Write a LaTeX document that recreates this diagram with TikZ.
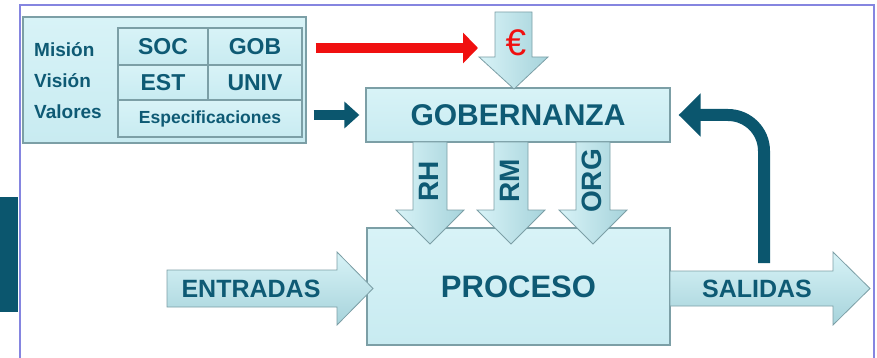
\documentclass[tikz,border=0pt]{standalone}
\usepackage{fontspec}
\setmainfont{Liberation Sans}
\usepackage{tikz}
\usetikzlibrary{arrows.meta}

\definecolor{celeste}{HTML}{C8EBF1}
\definecolor{celesteclaro}{HTML}{D8F3F7}
\definecolor{celesteosc}{HTML}{A6D3DB}
\definecolor{borde}{HTML}{7C9FA6}
\definecolor{azultexto}{HTML}{0E5A74}
\definecolor{azuloscuro}{HTML}{0B566E}
\definecolor{marco}{HTML}{8585E0}
\definecolor{rojo}{HTML}{F01010}

\begin{document}
\begin{tikzpicture}[x=1pt,y=-1pt,
    caja/.style={draw=borde, line width=1.3pt, top color=celesteclaro, bottom color=celeste, inner sep=0pt, text=azultexto},
    flechah/.style={draw=borde, line width=0.8pt, top color=celesteclaro, bottom color=celesteosc},
    flechav/.style={draw=borde, line width=0.8pt, left color=celesteclaro, right color=celesteosc},
    texto/.style={text=azultexto, inner sep=0pt},
    fuente/.style={font=\bfseries\fontsize{#1}{#1}\selectfont}]

    \useasboundingbox (0,0) rectangle (877,358);

    % Frame and side tab
    \draw[marco, line width=2pt] (20,358) -- (20,5) -- (874,5) -- (874,358);
    \fill[azuloscuro] (0,197) rectangle (18,312);

    % Left panel
    \node[caja, minimum width=283pt, minimum height=126pt] (panel) at (164.5,80) {};
    \node[texto, fuente=19, anchor=west] (mision) at (34,50) {Misión};
    \node[texto, fuente=19, anchor=west] (vision) at (34,81) {Visión};
    \node[texto, fuente=19, anchor=west] (valores) at (34,112) {Valores};

    \node[caja, fuente=23, minimum width=90pt, minimum height=37pt] (soc) at (163,46.5) {SOC};
    \node[caja, fuente=23, minimum width=94pt, minimum height=37pt] (gobb) at (255,46.5) {GOB};
    \node[caja, fuente=23, minimum width=90pt, minimum height=35pt] (est) at (163,82.5) {EST};
    \node[caja, fuente=23, minimum width=94pt, minimum height=35pt] (univ) at (255,82.5) {UNIV};
    \node[caja, fuente=17.5, minimum width=184pt, minimum height=37pt] (espec) at (210,118.5) {Especificaciones};

    % Main boxes
    \node[caja, fuente=30, minimum width=304pt, minimum height=54pt] (gob) at (518,115) {GOBERNANZA};
    \node[caja, fuente=31, minimum width=303pt, minimum height=117pt] (proceso) at (518.5,286.5) {PROCESO};

    % Money arrow into GOBERNANZA
    \draw[flechav] (495,12) -- (532,12) -- (532,57) -- (548,57) -- (514,89) -- (479,57) -- (495,57) -- cycle;
    \node[text=rojo, font=\fontsize{37}{37}\selectfont, inner sep=0pt] (euro) at (516,43) {€};
    \coordinate (eurohead) at (478,48);
    \draw[rojo, line width=10pt, -{Triangle[width=30pt,length=15pt]}] ([xshift=9pt]panel.east |- eurohead) -- (eurohead);

    % Panel to GOBERNANZA
    \draw[azuloscuro, line width=10pt, -{Triangle[width=26pt,length=15pt]}] ([xshift=7pt]panel.east |- gob.west) -- ([xshift=-6pt]gob.west);

    % Resources from GOBERNANZA to PROCESO
    \foreach \x/\nombre/\etiqueta in {430/rh/RH, 511/rm/RM, 593/org/ORG} {
        \draw[flechav] (\x-17,142) -- (\x+17,142) -- (\x+17,210) -- (\x+34,210) -- (\x,244) -- (\x-34,210) -- (\x-17,210) -- cycle;
        \node[texto, fuente=28, rotate=90] (\nombre) at (\x-1,181) {\etiqueta};
    }

    % Inputs and outputs
    \draw[flechah] (167,270) -- (337,270) -- (337,252) -- (373,288.5) -- (337,325) -- (337,307) -- (167,307) -- cycle;
    \node[texto, fuente=25] (entradas) at (251,289) {ENTRADAS};
    \draw[flechah] (670,271) -- (833,271) -- (833,252) -- (870,288.5) -- (833,325) -- (833,306) -- (670,306) -- cycle;
    \node[texto, fuente=25] (salidas) at (757,289) {SALIDAS};

    % Feedback to GOBERNANZA
    \coordinate (retorno) at (764,263);
    \draw[azuloscuro, line width=12pt, rounded corners=36pt, -{Triangle[width=42pt,length=22pt]}] (retorno) -- (retorno |- gob.east) -- ([xshift=8pt]gob.east);
\end{tikzpicture}
\end{document}
